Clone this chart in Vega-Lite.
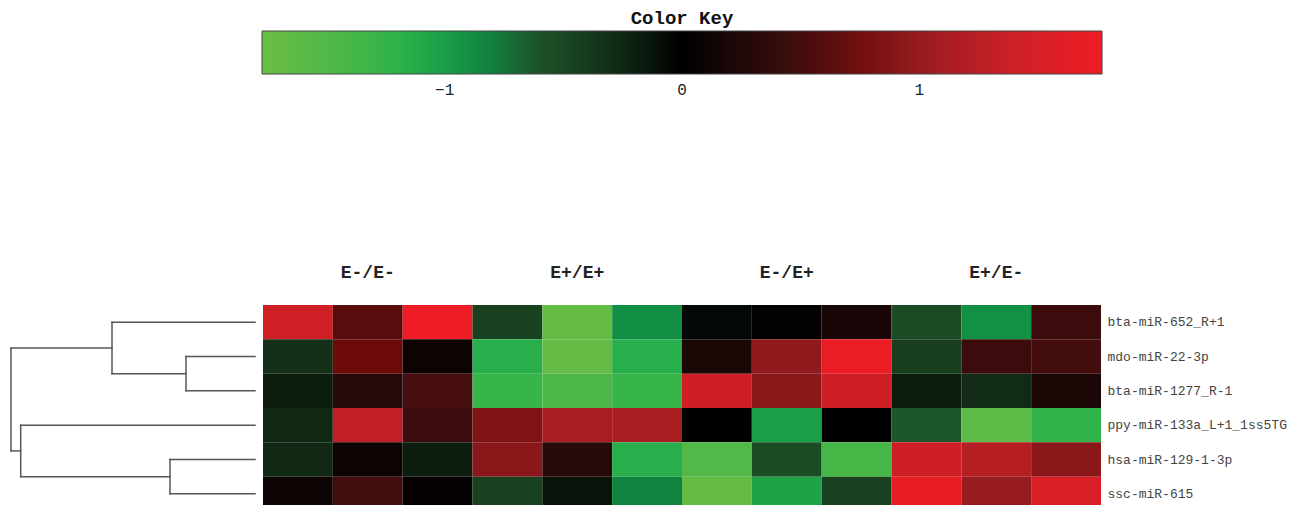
{
  "$schema": "https://vega.github.io/schema/vega-lite/v6.json",
  "width": 1091,
  "height": 200,
  "autosize": {"type": "none"},
  "padding": {"left": 10, "top": 305, "right": 201, "bottom": 0},
  "background": "white",
  "config": {"view": {"stroke": null}, "legend": {"gradientHorizontalMaxLength": 900}},
  "layer": [
    {
      "data": {"values": [
        {"gene": "bta-miR-652_R+1", "sample": "E-/E- 1", "value": 1.45},
        {"gene": "bta-miR-652_R+1", "sample": "E-/E- 2", "value": 0.62},
        {"gene": "bta-miR-652_R+1", "sample": "E-/E- 3", "value": 1.77},
        {"gene": "bta-miR-652_R+1", "sample": "E+/E+ 1", "value": -0.45},
        {"gene": "bta-miR-652_R+1", "sample": "E+/E+ 2", "value": -1.72},
        {"gene": "bta-miR-652_R+1", "sample": "E+/E+ 3", "value": -0.88},
        {"gene": "bta-miR-652_R+1", "sample": "E-/E+ 1", "value": -0.05},
        {"gene": "bta-miR-652_R+1", "sample": "E-/E+ 2", "value": 0.02},
        {"gene": "bta-miR-652_R+1", "sample": "E-/E+ 3", "value": 0.2},
        {"gene": "bta-miR-652_R+1", "sample": "E+/E- 1", "value": -0.55},
        {"gene": "bta-miR-652_R+1", "sample": "E+/E- 2", "value": -0.9},
        {"gene": "bta-miR-652_R+1", "sample": "E+/E- 3", "value": 0.45},
        {"gene": "mdo-miR-22-3p", "sample": "E-/E- 1", "value": -0.3},
        {"gene": "mdo-miR-22-3p", "sample": "E-/E- 2", "value": 0.72},
        {"gene": "mdo-miR-22-3p", "sample": "E-/E- 3", "value": 0.1},
        {"gene": "mdo-miR-22-3p", "sample": "E+/E+ 1", "value": -1.15},
        {"gene": "mdo-miR-22-3p", "sample": "E+/E+ 2", "value": -1.7},
        {"gene": "mdo-miR-22-3p", "sample": "E+/E+ 3", "value": -1.15},
        {"gene": "mdo-miR-22-3p", "sample": "E-/E+ 1", "value": 0.22},
        {"gene": "mdo-miR-22-3p", "sample": "E-/E+ 2", "value": 0.95},
        {"gene": "mdo-miR-22-3p", "sample": "E-/E+ 3", "value": 1.75},
        {"gene": "mdo-miR-22-3p", "sample": "E+/E- 1", "value": -0.42},
        {"gene": "mdo-miR-22-3p", "sample": "E+/E- 2", "value": 0.45},
        {"gene": "mdo-miR-22-3p", "sample": "E+/E- 3", "value": 0.5},
        {"gene": "bta-miR-1277_R-1", "sample": "E-/E- 1", "value": -0.18},
        {"gene": "bta-miR-1277_R-1", "sample": "E-/E- 2", "value": 0.3},
        {"gene": "bta-miR-1277_R-1", "sample": "E-/E- 3", "value": 0.52},
        {"gene": "bta-miR-1277_R-1", "sample": "E+/E+ 1", "value": -1.28},
        {"gene": "bta-miR-1277_R-1", "sample": "E+/E+ 2", "value": -1.45},
        {"gene": "bta-miR-1277_R-1", "sample": "E+/E+ 3", "value": -1.28},
        {"gene": "bta-miR-1277_R-1", "sample": "E-/E+ 1", "value": 1.42},
        {"gene": "bta-miR-1277_R-1", "sample": "E-/E+ 2", "value": 0.92},
        {"gene": "bta-miR-1277_R-1", "sample": "E-/E+ 3", "value": 1.42},
        {"gene": "bta-miR-1277_R-1", "sample": "E+/E- 1", "value": -0.18},
        {"gene": "bta-miR-1277_R-1", "sample": "E+/E- 2", "value": -0.27},
        {"gene": "bta-miR-1277_R-1", "sample": "E+/E- 3", "value": 0.22},
        {"gene": "ppy-miR-133a_L+1_1ss5TG", "sample": "E-/E- 1", "value": -0.25},
        {"gene": "ppy-miR-133a_L+1_1ss5TG", "sample": "E-/E- 2", "value": 1.3},
        {"gene": "ppy-miR-133a_L+1_1ss5TG", "sample": "E-/E- 3", "value": 0.45},
        {"gene": "ppy-miR-133a_L+1_1ss5TG", "sample": "E+/E+ 1", "value": 0.85},
        {"gene": "ppy-miR-133a_L+1_1ss5TG", "sample": "E+/E+ 2", "value": 1.12},
        {"gene": "ppy-miR-133a_L+1_1ss5TG", "sample": "E+/E+ 3", "value": 1.12},
        {"gene": "ppy-miR-133a_L+1_1ss5TG", "sample": "E-/E+ 1", "value": 0.0},
        {"gene": "ppy-miR-133a_L+1_1ss5TG", "sample": "E-/E+ 2", "value": -1.0},
        {"gene": "ppy-miR-133a_L+1_1ss5TG", "sample": "E-/E+ 3", "value": 0.0},
        {"gene": "ppy-miR-133a_L+1_1ss5TG", "sample": "E+/E- 1", "value": -0.62},
        {"gene": "ppy-miR-133a_L+1_1ss5TG", "sample": "E+/E- 2", "value": -1.62},
        {"gene": "ppy-miR-133a_L+1_1ss5TG", "sample": "E+/E- 3", "value": -1.25},
        {"gene": "hsa-miR-129-1-3p", "sample": "E-/E- 1", "value": -0.25},
        {"gene": "hsa-miR-129-1-3p", "sample": "E-/E- 2", "value": 0.1},
        {"gene": "hsa-miR-129-1-3p", "sample": "E-/E- 3", "value": -0.18},
        {"gene": "hsa-miR-129-1-3p", "sample": "E+/E+ 1", "value": 0.92},
        {"gene": "hsa-miR-129-1-3p", "sample": "E+/E+ 2", "value": 0.3},
        {"gene": "hsa-miR-129-1-3p", "sample": "E+/E+ 3", "value": -1.15},
        {"gene": "hsa-miR-129-1-3p", "sample": "E-/E+ 1", "value": -1.5},
        {"gene": "hsa-miR-129-1-3p", "sample": "E-/E+ 2", "value": -0.55},
        {"gene": "hsa-miR-129-1-3p", "sample": "E-/E+ 3", "value": -1.4},
        {"gene": "hsa-miR-129-1-3p", "sample": "E+/E- 1", "value": 1.42},
        {"gene": "hsa-miR-129-1-3p", "sample": "E+/E- 2", "value": 1.22},
        {"gene": "hsa-miR-129-1-3p", "sample": "E+/E- 3", "value": 0.92},
        {"gene": "ssc-miR-615", "sample": "E-/E- 1", "value": 0.1},
        {"gene": "ssc-miR-615", "sample": "E-/E- 2", "value": 0.5},
        {"gene": "ssc-miR-615", "sample": "E-/E- 3", "value": 0.04},
        {"gene": "ssc-miR-615", "sample": "E+/E+ 1", "value": -0.45},
        {"gene": "ssc-miR-615", "sample": "E+/E+ 2", "value": -0.12},
        {"gene": "ssc-miR-615", "sample": "E+/E+ 3", "value": -0.82},
        {"gene": "ssc-miR-615", "sample": "E-/E+ 1", "value": -1.72},
        {"gene": "ssc-miR-615", "sample": "E-/E+ 2", "value": -1.05},
        {"gene": "ssc-miR-615", "sample": "E-/E+ 3", "value": -0.45},
        {"gene": "ssc-miR-615", "sample": "E+/E- 1", "value": 1.72},
        {"gene": "ssc-miR-615", "sample": "E+/E- 2", "value": 1.0},
        {"gene": "ssc-miR-615", "sample": "E+/E- 3", "value": 1.55}
      ]},
      "mark": {"type": "rect"},
      "encoding": {
        "x": {
          "field": "sample", "type": "nominal",
          "scale": {"domain": ["E-/E- 1","E-/E- 2","E-/E- 3","E+/E+ 1","E+/E+ 2","E+/E+ 3","E-/E+ 1","E-/E+ 2","E-/E+ 3","E+/E- 1","E+/E- 2","E+/E- 3"], "range": [253, 1091], "paddingInner": 0, "paddingOuter": 0},
          "axis": {"orient": "top", "title": null, "domain": false, "ticks": false, "values": ["E-/E- 2","E+/E+ 2","E-/E+ 2","E+/E- 2"], "labelExpr": "split(datum.label, ' ')[0]", "labelFont": "Liberation Mono", "labelFontSize": 18, "labelFontWeight": "bold", "labelColor": "#222", "labelPadding": 24, "labelAngle": 0}
        },
        "y": {
          "field": "gene", "type": "nominal",
          "scale": {"domain": ["bta-miR-652_R+1","mdo-miR-22-3p","bta-miR-1277_R-1","ppy-miR-133a_L+1_1ss5TG","hsa-miR-129-1-3p","ssc-miR-615"], "range": [0, 206], "paddingInner": 0, "paddingOuter": 0},
          "axis": {"orient": "right", "title": null, "domain": false, "ticks": false, "labelFont": "Liberation Mono", "labelFontSize": 13, "labelColor": "#444", "labelPadding": 6, "labelLimit": 0}
        },
        "color": {
          "field": "value", "type": "quantitative",
          "scale": {
            "type": "linear",
            "interpolate": "rgb",
            "domain": [-1.77, -1.45, -1.2, -1.0, -0.85, -0.6, -0.3, 0, 0.3, 0.55, 0.7, 1.0, 1.35, 1.77],
            "range": ["#6abd45", "#4db848", "#2db34a", "#1a9e48", "#0e8a43", "#1e5228", "#143018", "#000000", "#260a0a", "#4a0e0e", "#6a0a0a", "#961c20", "#c82027", "#ee1c24"]
          },
          "legend": {
            "orient": "none", "legendX": 252, "legendY": -296, "direction": "horizontal",
            "gradientLength": 840, "gradientThickness": 43,
            "gradientStrokeColor": "#444", "gradientStrokeWidth": 1,
            "title": "Color Key", "titleFont": "Liberation Mono", "titleFontSize": 19, "titleFontWeight": "bold", "titleColor": "#111", "titleAnchor": "middle", "titlePadding": 3,
            "values": [-1, 0, 1], "format": "d", "labelFont": "Liberation Mono", "labelFontSize": 16, "labelColor": "#222", "labelOffset": 8, "labelOverlap": false
          }
        }
      }
    },
    {
      "data": {"values": [
        {"h1": 0, "h2": 1.43, "y1": 0.5, "y2": 0.5},
        {"h1": 0, "h2": 0.69, "y1": 1.5, "y2": 1.5},
        {"h1": 0, "h2": 0.69, "y1": 2.5, "y2": 2.5},
        {"h1": 0, "h2": 2.343, "y1": 3.5, "y2": 3.5},
        {"h1": 0, "h2": 0.85, "y1": 4.5, "y2": 4.5},
        {"h1": 0, "h2": 0.85, "y1": 5.5, "y2": 5.5},
        {"h1": 0.69, "h2": 0.69, "y1": 1.5, "y2": 2.5},
        {"h1": 0.69, "h2": 1.43, "y1": 2.0, "y2": 2.0},
        {"h1": 1.43, "h2": 1.43, "y1": 0.5, "y2": 2.0},
        {"h1": 1.43, "h2": 2.44, "y1": 1.25, "y2": 1.25},
        {"h1": 0.85, "h2": 0.85, "y1": 4.5, "y2": 5.5},
        {"h1": 0.85, "h2": 2.343, "y1": 5.0, "y2": 5.0},
        {"h1": 2.343, "h2": 2.343, "y1": 3.5, "y2": 5.0},
        {"h1": 2.343, "h2": 2.44, "y1": 4.25, "y2": 4.25},
        {"h1": 2.44, "h2": 2.44, "y1": 1.25, "y2": 4.25}
      ]},
      "mark": {"type": "rule", "color": "#5a5652", "strokeWidth": 1.5, "strokeCap": "square"},
      "encoding": {
        "x": {"field": "h1", "type": "quantitative", "scale": {"domain": [0, 2.45], "reverse": true, "range": [0, 245], "nice": false, "zero": false}, "axis": null},
        "x2": {"field": "h2"},
        "y": {"field": "y1", "type": "quantitative", "scale": {"domain": [0, 6], "range": [0, 206], "nice": false, "zero": false}, "axis": null},
        "y2": {"field": "y2"}
      }
    }
  ],
  "resolve": {"scale": {"x": "independent", "y": "independent", "color": "independent"}, "axis": {"x": "independent", "y": "independent"}}
}
